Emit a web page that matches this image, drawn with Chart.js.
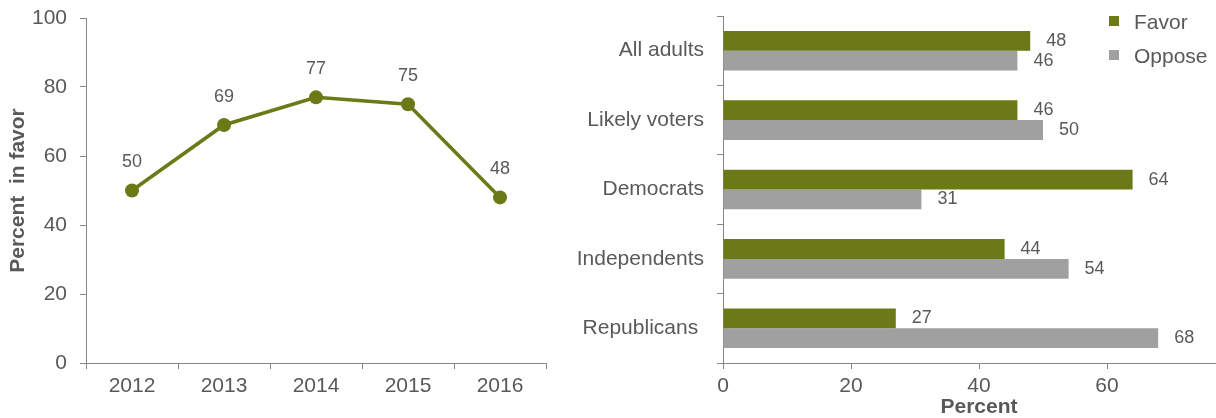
<!DOCTYPE html>
<html>
<head>
<meta charset="utf-8">
<script src="https://cdn.jsdelivr.net/npm/chart.js@4"></script>
<style>
  body { margin: 0; background: #fff; overflow: hidden; width: 1216px; height: 418px; position: relative; }
  #trendBox { position: absolute; left: 0; top: 0; width: 560px; height: 418px; }
  #groupBox { position: absolute; left: 560px; top: 0; width: 690px; height: 418px; }
  #legend { position: absolute; left: 1109px; top: 5px; font: 21px 'Liberation Sans', Arial, sans-serif; color: #595959; }
  #legend div { height: 34px; line-height: 34px; white-space: nowrap; }
  #legend span { display: inline-block; width: 10px; height: 10px; margin-right: 15px; vertical-align: middle; position: relative; top: -2px; }
</style>
</head>
<body>
<div id="trendBox"><canvas id="trendChart" width="560" height="418"></canvas></div>
<div id="groupBox"><canvas id="groupChart" width="690" height="418"></canvas></div>
<div id="legend"></div>
<script>
// left: share in favor by year
var years = ['2012', '2013', '2014', '2015', '2016'];
var favorByYear = [50, 69, 77, 75, 48];

// right: favor / oppose by group
var groups = ['All adults', 'Likely voters', 'Democrats', 'Independents', 'Republicans '];
var favor = [48, 46, 64, 44, 27];
var oppose = [46, 50, 31, 54, 68];

var green = '#6b7a17';
var grey = '#a0a0a0';
var axisGrey = '#868686';
var textGrey = '#595959';

Chart.defaults.font.family = "'Liberation Sans', Arial, sans-serif";
Chart.defaults.color = textGrey;
Chart.defaults.animation = false;

// draws the number next to each point / bar
var valueLabels = {
    id: 'valueLabels',
    afterDatasetsDraw: function(chart) {
        var ctx = chart.ctx;
        ctx.save();
        ctx.font = "18px 'Liberation Sans', Arial, sans-serif";
        ctx.fillStyle = textGrey;
        ctx.textBaseline = 'middle';
        chart.data.datasets.forEach(function(ds, i) {
            var meta = chart.getDatasetMeta(i);
            meta.data.forEach(function(el, j) {
                if (chart.config.type == 'line') {
                    ctx.textAlign = 'center';
                    ctx.fillText(ds.data[j], el.x, el.y - 28);
                } else {
                    ctx.textAlign = 'left';
                    ctx.fillText(ds.data[j], el.x + 16, el.y);
                }
            });
        });
        ctx.restore();
    }
};

var axisGrid = {
    drawOnChartArea: false,
    drawTicks: true,
    tickLength: 6,
    color: axisGrey,
    lineWidth: 1
};

// fixed axis sizes so the plot areas sit where the original ones do
function fixHeight(h) {
    return function(scale) { scale.height = h; scale.paddingLeft = 0; scale.paddingRight = 0; };
}
function fixWidth(w) {
    return function(scale) { scale.width = w; scale.paddingTop = 0; scale.paddingBottom = 0; };
}

new Chart(document.getElementById('trendChart'), {
    type: 'line',
    data: {
        labels: years,
        datasets: [{
            label: 'Percent in favor',
            data: favorByYear,
            borderColor: green,
            backgroundColor: green,
            borderWidth: 3.5,
            pointRadius: 7,
            pointBorderWidth: 0,
            pointBackgroundColor: green
        }]
    },
    options: {
        responsive: false,
        layout: { padding: { top: 18, right: 14, bottom: 0, left: 0 } },
        plugins: { legend: { display: false }, tooltip: { enabled: false } },
        scales: {
            x: {
                offset: true,
                grid: Object.assign({}, axisGrid, { offset: true }),
                border: { color: axisGrey },
                ticks: { font: { size: 21 }, padding: 5, maxRotation: 0 },
                afterFit: fixHeight(55)
            },
            y: {
                min: 0,
                max: 100,
                grid: axisGrid,
                border: { color: axisGrey },
                ticks: { stepSize: 20, font: { size: 21 }, padding: 13 },
                title: {
                    display: true,
                    text: 'Percent  in favor',
                    font: { size: 21, weight: 'bold', lineHeight: 1 },
                    padding: { top: 8, bottom: 0 }
                },
                afterFit: fixWidth(86)
            }
        }
    },
    plugins: [valueLabels]
});

var groupChart = new Chart(document.getElementById('groupChart'), {
    type: 'bar',
    data: {
        labels: groups,
        datasets: [
            { label: 'Favor', data: favor, backgroundColor: green },
            { label: 'Oppose', data: oppose, backgroundColor: grey }
        ]
    },
    options: {
        indexAxis: 'y',
        responsive: false,
        layout: { padding: { top: 16, right: 15, bottom: 0, left: 0 } },
        datasets: { bar: { barPercentage: 1, categoryPercentage: 0.57 } },
        plugins: { legend: { display: false }, tooltip: { enabled: false } },
        scales: {
            x: {
                min: 0,
                max: 80,
                grid: axisGrid,
                border: { color: axisGrey },
                ticks: { stepSize: 20, font: { size: 21 }, padding: 5 },
                title: {
                    display: true,
                    text: 'Percent',
                    font: { size: 21, weight: 'bold', lineHeight: 1 },
                    padding: { top: 0, bottom: 0 }
                },
                afterFit: fixHeight(55)
            },
            y: {
                grid: Object.assign({}, axisGrid, { offset: true }),
                border: { color: axisGrey },
                ticks: { font: { size: 21 }, padding: 13 },
                afterFit: fixWidth(163)
            }
        }
    },
    plugins: [valueLabels]
});

// legend in the top right corner
var legend = document.getElementById('legend');
groupChart.data.datasets.forEach(function(ds) {
    var row = document.createElement('div');
    var box = document.createElement('span');
    box.style.background = ds.backgroundColor;
    row.appendChild(box);
    row.appendChild(document.createTextNode(ds.label));
    legend.appendChild(row);
});
</script>
</body>
</html>
